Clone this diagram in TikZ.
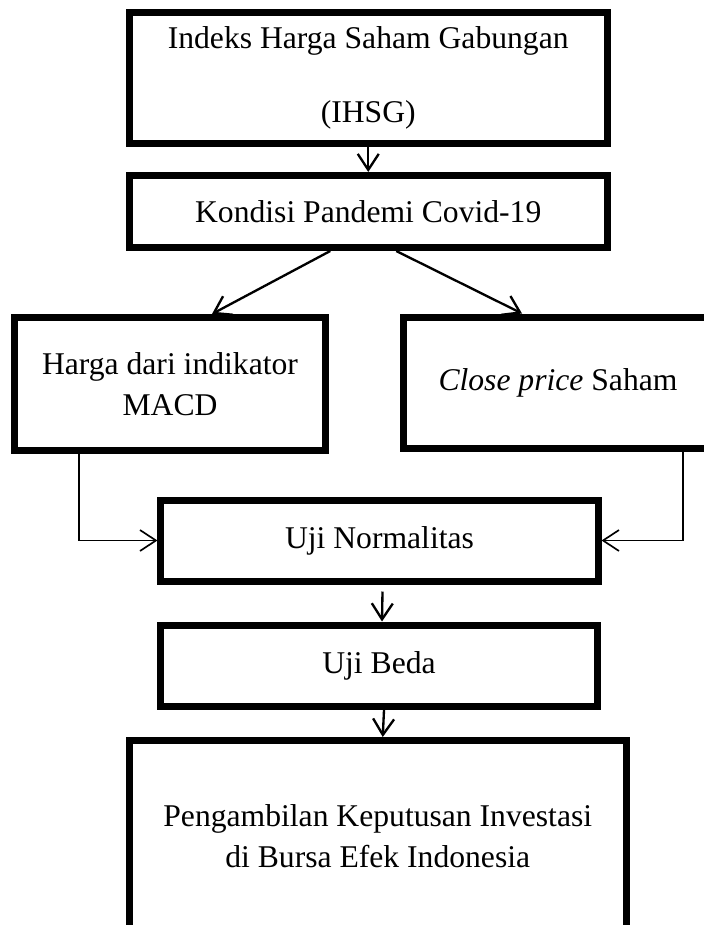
\documentclass[tikz,border=0pt]{standalone}
\usepackage{fontspec}
\setmainfont{Liberation Serif}
\usetikzlibrary{positioning, arrows.meta, calc}

\begin{document}
\begin{tikzpicture}[
    x=0.03cm, y=-0.03cm,
    box/.style={draw, rectangle, line width=0.21cm, align=center, inner sep=0pt,
                font=\fontsize{27}{35}\selectfont},
    arr/.style={-{Straight Barb[length=4.8mm, width=6.3mm]}, line width=0.07cm},
    link/.style={line width=0.05cm}
]
\useasboundingbox (0,0) rectangle (704,925);
\clip (0,0) rectangle (704,925);

\node[box, minimum width=14.33cm, minimum height=3.93cm] (ihsg) at (368.25,78) {Indeks Harga Saham Gabungan\\[1.0cm](IHSG)};
\node[box, minimum width=14.33cm, minimum height=2.16cm] (kondisi) at (368.25,211.5) {Kondisi Pandemi Covid-19};
\node[box, minimum width=9.3cm, minimum height=3.975cm] (macd) at (170,383.75) {Harga dari indikator\\MACD};
\node[box, minimum width=9.24cm, minimum height=3.93cm] (close) at (558,382.5) {\textit{Close price} Saham};
\node[box, minimum width=13.11cm, minimum height=2.43cm] (normal) at (379.5,540.5) {Uji Normalitas};
\node[box, minimum width=13.11cm, minimum height=2.445cm] (beda) at (379,665.75) {Uji Beda};
\node[box, minimum width=14.9cm, minimum height=5.745cm] (putusan) at (377.75,836.25) {Pengambilan Keputusan Investasi\\di Bursa Efek Indonesia};

\draw[arr] (ihsg.south) -- (kondisi.north);
\draw[arr] ($(kondisi.south)+(-38,0)$) -- ($(macd.north)+(42,0)$);
\draw[arr] ($(kondisi.south)+(28,0)$) -- ($(close.north)+(-36,0)$);
\draw[arr, link] ($(macd.south)+(-91,0)$) |- (normal.west);
\draw[arr, link] ($(close.south)+(125,0)$) |- (normal.east);
\draw[arr] ($(normal.south)+(3,7)$) -- ($(beda.north)+(3,0)$);
\draw[arr] ($(beda.south)+(5,0)$) -- ($(putusan.north)+(5,0)$);

\end{tikzpicture}
\end{document}
